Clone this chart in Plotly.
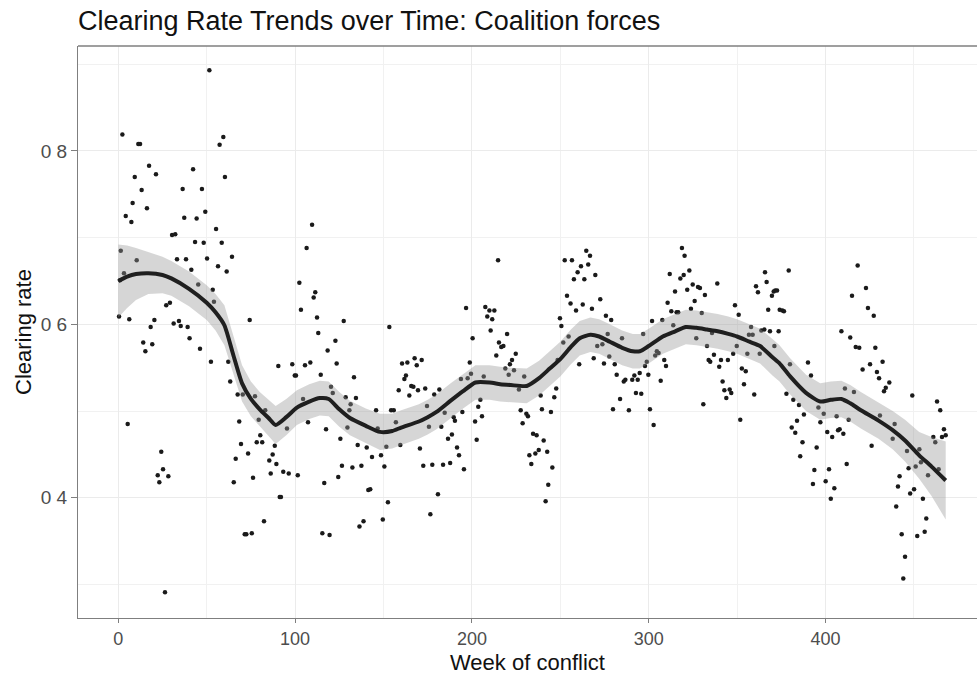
import plotly.graph_objects as go

# ---- scatter data: week of conflict vs clearing rate ----
weeks = [
2.3,11.3,12.3,51.5,57.3,59.4,17.4,9.3,21.3,42.3,60.3,13.2,36.4,47.3,8.1,16.2,4.2,7.4,37.3,44.3,49.2,55.3,30.4,32.2,43.4,48.3,58.5,109.6,106.5,1.4,10.4,33.2,38.3,50.2,64.3,56.4,61.3,41.3,3.2,1.0,45.2,53.4,54.1,102.4,103.3,111.4,110.5,112.4,27.1,29.2,0.4,6.2,20.4,18.3,31.3,34.3,35.3,39.2,74.3,
40.3,46.2,14.1,19.2,15.3,52.4,62.2,63.3,67.5,70.4,77.3,83.1,79.4,68.4,90.5,98.4,99.8,100.5,105.6,108.6,113.1,104.5,107.3,95.4,5.3,80.3,78.3,81.4,88.5,69.4,87.3,73.4,66.4,85.4,89.4,93.3,96.4,101.5,86.2,76.2,65.3,24.3,25.3,22.3,28.3,23.2,91.3,92.0,82.4,71.5,72.4,75.5,26.4,
115.4,119.5,136.4,138.7,149.6,152.5,176.5,241.7,
127.5,122.8,118.4,123.5,114.5,133.3,120.3,121.3,128.6,131.4,134.4,130.7,117.5,129.6,125.6,135.4,140.5,143.5,148.6,126.5,132.4,137.5,124.4,116.5,141.4,142.5,145.8,146.7,150.5,151.6,153.3,154.3,155.8,157.0,159.5,158.6,160.5,163.5,161.8,162.7,164.6,165.7,166.9,167.6,168.8,171.6,169.5,173.6,174.6,175.7,170.6,172.5,177.6,178.7,181.6,180.8,182.7,183.7,184.6,186.5,188.7,187.7,189.7,190.4,191.6,192.7,194.6,195.5,196.7,198.8,193.8,197.6,199.5,200.4,201.8,202.7,203.6,204.8,205.7,206.7,207.6,209.9,212.7,208.7,211.5,210.6,214.8,215.3,216.6,217.8,219.9,213.8,218.9,221.5,222.7,224.8,220.8,223.8,226.6,229.6,227.6,228.7,230.8,231.7,234.6,236.6,238.9,239.6,240.6,232.5,235.9,237.8,233.6,242.6,243.2,
245.5,244.7,246.6,247.7,248.5,249.8,250.6,251.7,254.7,252.5,256.6,253.8,255.8,257.7,259.8,261.7,263.6,258.9,262.7,264.7,266.8,265.8,267.9,269.8,260.7,268.9,270.9,273.8,272.6,274.7,275.8,276.8,277.7,278.8,280.8,281.9,283.8,279.8,284.9,285.9,286.8,288.8,290.7,291.9,292.8,293.8,294.9,295.8,296.9,297.9,298.9,299.8,300.7,301.9,302.8,303.7,304.6,305.6,306.8,307.7,308.8,309.8,310.7,311.9,312.8,313.9,314.9,315.8,316.7,317.9,319.8,318.8,320.3,321.8,323.0,323.9,324.9,326.0,326.9,327.9,329.0,330.0,330.9,331.8,333.0,333.9,334.8,335.8,336.9,338.8,339.9,340.9,341.8,342.8,343.9,344.8,345.8,346.7,347.8,348.8,349.8,350.9,351.8,352.7,354.9,353.9,355.8,356.7,357.9,358.8,359.7,360.7,361.8,362.8,363.7,365.8,366.7,367.6,368.6,369.7,370.7,371.6,372.6,371.1,373.5,374.1,
379.2,375.6,376.5,365.4,379.9,390.1,391.8,377.9,381.8,385.0,387.8,383.9,380.9,382.9,387.0,385.7,395.0,393.7,392.9,397.1,396.0,399.0,401.0,403.8,402.0,400.1,405.0,403.0,406.3,407.1,408.0,410.1,409.0,411.0,412.0,413.1,414.0,415.0,416.1,417.1,419.1,418.2,421.0,422.9,424.0,425.2,426.1,427.3,428.2,429.1,430.3,430.8,432.3,433.1,434.1,436.1,438.0,439.1,440.0,441.0,441.9,443.1,444.0,445.0,446.1,447.0,447.9,450.1,449.1,451.0,451.9,453.1,454.0,455.1,456.1,457.0,458.0,461.0,462.1,463.1,464.9,464.0,465.9,467.0,468.0,
]
clearing_rate = [
0.819,0.808,0.808,0.893,0.807,0.816,0.783,0.770,0.773,0.779,0.770,0.755,0.756,0.756,0.740,0.734,0.725,0.718,0.723,0.722,0.730,0.710,0.703,0.704,0.695,0.694,0.694,0.715,0.688,0.685,0.674,0.675,0.675,0.676,0.678,0.667,0.661,0.663,0.659,0.651,0.646,0.640,0.626,0.648,0.617,0.637,0.631,0.608,0.622,0.625,0.609,0.606,0.605,0.597,0.601,0.604,0.598,0.597,0.605,
0.584,0.572,0.579,0.577,0.569,0.557,0.557,0.534,0.519,0.519,0.517,0.501,0.490,0.488,0.552,0.554,0.541,0.541,0.553,0.556,0.590,0.514,0.487,0.480,0.485,0.472,0.464,0.464,0.460,0.462,0.450,0.451,0.445,0.443,0.439,0.430,0.428,0.426,0.428,0.423,0.418,0.453,0.433,0.426,0.425,0.418,0.401,0.401,0.373,0.358,0.358,0.359,0.291,
0.359,0.357,0.367,0.373,0.375,0.395,0.381,0.396,
0.604,0.581,0.570,0.555,0.542,0.539,0.528,0.521,0.516,0.508,0.515,0.501,0.479,0.481,0.468,0.461,0.458,0.447,0.449,0.437,0.435,0.437,0.424,0.417,0.409,0.410,0.501,0.480,0.436,0.459,0.597,0.501,0.501,0.487,0.461,0.524,0.555,0.556,0.537,0.541,0.518,0.529,0.528,0.561,0.553,0.559,0.524,0.526,0.506,0.482,0.457,0.437,0.438,0.519,0.525,0.404,0.482,0.438,0.498,0.468,0.473,0.440,0.493,0.489,0.458,0.449,0.499,0.433,0.619,0.556,0.537,0.538,0.543,0.584,0.488,0.467,0.505,0.513,0.494,0.540,0.620,0.616,0.616,0.609,0.606,0.593,0.674,0.579,0.574,0.575,0.589,0.564,0.549,0.554,0.559,0.566,0.542,0.547,0.525,0.540,0.501,0.486,0.497,0.494,0.474,0.472,0.518,0.502,0.466,0.449,0.451,0.455,0.439,0.453,0.415,
0.435,0.499,0.516,0.526,0.559,0.607,0.598,0.579,0.586,0.674,0.674,0.633,0.624,0.652,0.660,0.667,0.652,0.616,0.623,0.685,0.679,0.669,0.618,0.657,0.554,0.561,0.575,0.577,0.629,0.555,0.610,0.589,0.563,0.605,0.554,0.542,0.514,0.502,0.584,0.534,0.536,0.501,0.536,0.541,0.521,0.536,0.544,0.520,0.589,0.552,0.557,0.542,0.502,0.604,0.484,0.564,0.569,0.567,0.535,0.605,0.559,0.552,0.625,0.658,0.615,0.599,0.638,0.614,0.614,0.653,0.657,0.688,0.679,0.640,0.662,0.618,0.646,0.627,0.584,0.643,0.642,0.613,0.508,0.634,0.575,0.559,0.557,0.590,0.565,0.647,0.551,0.559,0.534,0.524,0.515,0.559,0.525,0.521,0.566,0.622,0.575,0.611,0.490,0.549,0.546,0.531,0.566,0.588,0.597,0.588,0.519,0.644,0.637,0.566,0.593,0.660,0.649,0.617,0.592,0.633,0.638,0.639,0.639,0.575,0.592,0.617,
0.662,0.616,0.615,0.594,0.554,0.556,0.541,0.520,0.513,0.507,0.496,0.489,0.481,0.475,0.464,0.448,0.458,0.432,0.416,0.487,0.504,0.497,0.476,0.470,0.433,0.419,0.411,0.399,0.494,0.478,0.479,0.474,0.592,0.526,0.439,0.490,0.585,0.633,0.522,0.574,0.573,0.668,0.548,0.642,0.619,0.554,0.460,0.610,0.573,0.545,0.538,0.495,0.557,0.523,0.527,0.533,0.468,0.485,0.390,0.413,0.425,0.358,0.307,0.332,0.454,0.434,0.405,0.410,0.518,0.436,0.356,0.456,0.441,0.399,0.361,0.376,0.426,0.470,0.464,0.511,0.501,0.433,0.470,0.479,0.472,
]

# ---- loess-style trend line and its confidence band ----
smooth_weeks = [0,5,10,17,25,30,40,50,55,60,65,70,75,80,85,89,95,101,108,114,119,125,131,140,148,155,160,170,175,180,188,195,202,210,216,222,231,238,244,250,256,261,267,272,278,285,291,295,300,308,315,321,327,333,339,345,350,357,363,370,374,380,389,397,403,409,414,420,430,438,445,453,460,468]
smooth_fit = [0.650,0.655,0.658,0.659,0.657,0.653,0.641,0.625,0.614,0.599,0.565,0.532,0.514,0.502,0.492,0.484,0.493,0.504,0.511,0.515,0.514,0.502,0.492,0.483,0.476,0.477,0.481,0.488,0.493,0.499,0.512,0.523,0.533,0.533,0.531,0.530,0.529,0.538,0.549,0.560,0.574,0.584,0.588,0.586,0.580,0.573,0.569,0.569,0.575,0.586,0.592,0.597,0.596,0.594,0.592,0.589,0.586,0.580,0.575,0.562,0.555,0.540,0.521,0.511,0.513,0.514,0.509,0.501,0.489,0.478,0.466,0.449,0.436,0.420]
smooth_se = [0.042,0.036,0.030,0.024,0.021,0.020,0.020,0.020,0.021,0.023,0.022,0.021,0.020,0.020,0.021,0.022,0.021,0.020,0.020,0.020,0.020,0.020,0.020,0.020,0.021,0.020,0.020,0.020,0.020,0.020,0.020,0.020,0.020,0.020,0.020,0.020,0.020,0.020,0.020,0.020,0.020,0.020,0.020,0.020,0.020,0.020,0.020,0.020,0.020,0.020,0.020,0.020,0.020,0.020,0.020,0.020,0.020,0.020,0.020,0.021,0.021,0.021,0.021,0.021,0.021,0.021,0.021,0.021,0.021,0.022,0.024,0.027,0.034,0.045]

y_tick_vals = [0.4, 0.6, 0.8]
y_tick_text = ["0 4", "0 6", "0 8"]
x_tick_vals = [0, 100, 200, 300, 400]

band_hi = [f + s for f, s in zip(smooth_fit, smooth_se)]
band_lo = [f - s for f, s in zip(smooth_fit, smooth_se)]

FONT = "Liberation Sans, Arial, sans-serif"
W, H = 977, 674
ML, MT, MB = 78, 46, 56

fig = go.Figure()
fig.add_trace(go.Scatter(
    x=weeks, y=clearing_rate, mode="markers",
    marker=dict(size=4.5, color="#1a1a1a", line=dict(width=0)),
    hoverinfo="x+y", showlegend=False))
fig.add_trace(go.Scatter(
    x=smooth_weeks + smooth_weeks[::-1], y=band_hi + band_lo[::-1],
    fill="toself", fillcolor="rgba(153,153,153,0.4)", line=dict(width=0),
    mode="lines", hoverinfo="skip", showlegend=False))
fig.add_trace(go.Scatter(
    x=smooth_weeks, y=smooth_fit, mode="lines",
    line=dict(color="#1f1f1f", width=4, shape="spline", smoothing=0.6),
    hoverinfo="skip", showlegend=False))

fig.update_layout(
    width=W, height=H,
    margin=dict(l=ML, r=0, t=MT, b=MB),
    paper_bgcolor="white", plot_bgcolor="white",
    font=dict(family=FONT, color="black"),
    title=dict(text="Clearing Rate Trends over Time: Coalition forces",
               x=ML / W, xanchor="left", xref="container",
               y=1 - 21 / H, yanchor="middle", yref="container",
               font=dict(size=27, color="#111111", family=FONT)),
    xaxis=dict(range=[-22.8, 485.7], tickvals=x_tick_vals,
               showgrid=True, gridcolor="#ebebeb", gridwidth=1.4,
               minor=dict(dtick=50, tick0=0, showgrid=True, gridcolor="#f1f1f1", gridwidth=0.8),
               zeroline=False, showline=True, linecolor="#7f7f7f", linewidth=1.3,
               ticks="outside", ticklen=4, tickcolor="#7f7f7f", tickwidth=1.2,
               tickfont=dict(size=18, color="#4d4d4d")),
    yaxis=dict(range=[0.2614, 0.921], tickvals=y_tick_vals, ticktext=y_tick_text,
               showgrid=True, gridcolor="#ebebeb", gridwidth=1.4,
               minor=dict(tickvals=[0.3, 0.5, 0.7, 0.9], showgrid=True, gridcolor="#f1f1f1", gridwidth=0.8),
               zeroline=False, showline=True, linecolor="#7f7f7f", linewidth=1.3,
               ticks="outside", ticklen=6, tickcolor="#7f7f7f", tickwidth=1.2,
               tickfont=dict(size=19, color="#4d4d4d")),
    shapes=[dict(type="line", xref="paper", yref="paper", x0=0, x1=1, y0=1, y1=1,
                 line=dict(color="#7f7f7f", width=1.3))],
    annotations=[
        dict(text="Week of conflict", xref="paper", yref="paper", x=0.5, y=0,
             yshift=-(662 - (H - MB)), xanchor="center", yanchor="middle", showarrow=False,
             font=dict(size=22, color="#111111", family=FONT)),
        dict(text="Clearing rate", xref="paper", yref="paper", x=(23 - ML) / (W - ML), y=0.5,
             textangle=-90, xanchor="center", yanchor="middle", showarrow=False,
             font=dict(size=22, color="#111111", family=FONT)),
    ],
)

fig.write_html("out.html", config={"displayModeBar": False},
               post_script="document.body.style.margin='0';document.body.style.overflow='hidden';")
